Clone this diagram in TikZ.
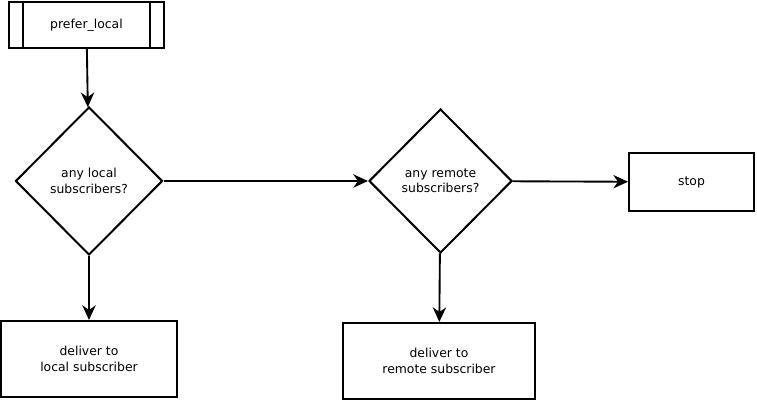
\documentclass[tikz,border=0pt]{standalone}
\usepackage{fontspec}
\setmainfont{DejaVu Sans}
\usetikzlibrary{shapes.geometric,arrows.meta}
\begin{document}
\begin{tikzpicture}[x=0.75pt,y=-0.75pt,
  every node/.style={font=\fontsize{9.3}{11.5}\selectfont, align=center, line width=1.5pt},
  box/.style={draw, rectangle, inner sep=0pt},
  decision/.style={draw, diamond, inner sep=0pt, aspect=1},
  conn/.style={line width=1.4pt, -{Stealth[length=11pt,width=10pt,inset=3.5pt]}}]
\useasboundingbox (0,0) rectangle (757,402);
\node[box, minimum width=116.25pt, minimum height=34.5pt] (pl) at (86.5,25) {prefer\_local};
\draw[line width=1.5pt] ([xshift=11.25pt]pl.north west) -- ([xshift=11.25pt]pl.south west);
\draw[line width=1.5pt] ([xshift=-11.25pt]pl.north east) -- ([xshift=-11.25pt]pl.south east);
\node[decision, minimum width=110.25pt, minimum height=111pt] (d1) at (89,181) {any local\\subscribers?};
\node[decision, minimum width=107.25pt, minimum height=108pt] (d2) at (440.5,181) {any remote\\subscribers?};
\node[box, minimum width=93.75pt, minimum height=43.5pt] (stop) at (691.5,182) {stop};
\node[box, minimum width=132pt, minimum height=57pt] (loc) at (89,359) {deliver to\\local subscriber};
\node[box, minimum width=144pt, minimum height=57pt] (rem) at (439,361) {deliver to\\remote subscriber};
\draw[conn] (pl) -- (d1);
\draw[conn] (d1) -- (d2);
\draw[conn] (d2) -- (stop);
\draw[conn] (d1) -- (loc);
\draw[conn] (d2) -- (rem);
\end{tikzpicture}
\end{document}
